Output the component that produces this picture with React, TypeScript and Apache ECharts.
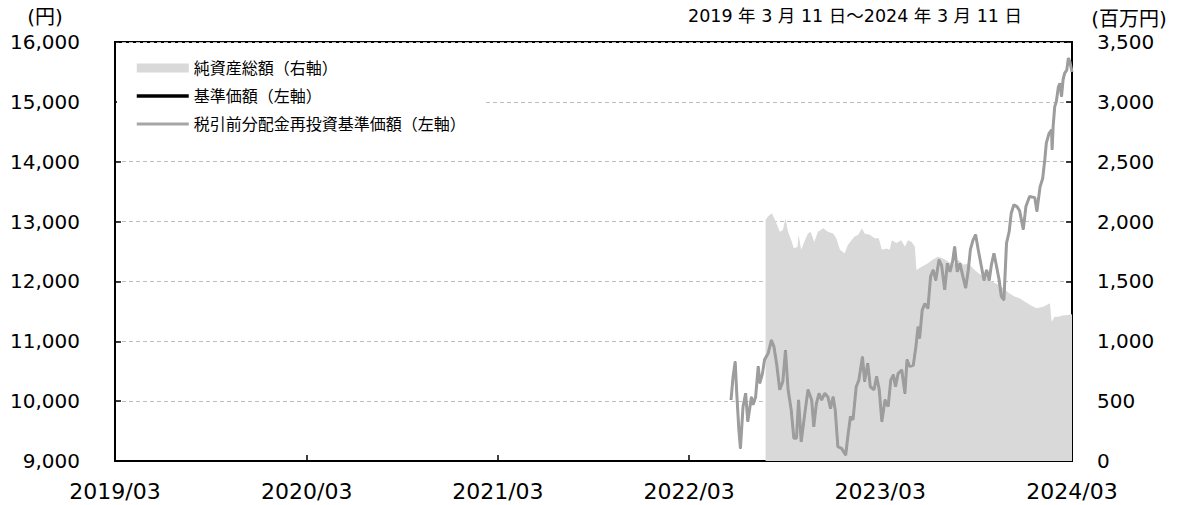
import React, { useEffect, useRef } from "react";
import * as echarts from "echarts";

const FONT = '"DejaVu Sans", "Noto Sans CJK JP", sans-serif';

// x-axis tick dates (anniversaries of the start date)
const xTickDates = ["2019-03-11", "2020-03-11", "2021-03-11", "2022-03-11", "2023-03-11", "2024-03-11"];

// Left axis (円)
const leftTicks = [9000, 10000, 11000, 12000, 13000, 14000, 15000, 16000];
// Right axis (百万円)
const rightTicks = [0, 500, 1000, 1500, 2000, 2500, 3000, 3500];

const navDates = [
  "2022-05-30", "2022-06-03", "2022-06-07", "2022-06-10", "2022-06-14", "2022-06-17", "2022-06-22", "2022-06-27",
  "2022-07-01", "2022-07-08", "2022-07-11", "2022-07-16", "2022-07-21", "2022-07-24", "2022-07-29", "2022-08-02",
  "2022-08-09", "2022-08-15", "2022-08-20", "2022-08-25", "2022-08-31", "2022-09-06", "2022-09-11", "2022-09-16",
  "2022-09-22", "2022-09-27", "2022-10-02", "2022-10-06", "2022-10-11", "2022-10-18", "2022-10-24", "2022-10-31",
  "2022-11-04", "2022-11-09", "2022-11-14", "2022-11-19", "2022-11-25", "2022-12-01", "2022-12-06", "2022-12-11",
  "2022-12-15", "2022-12-20", "2022-12-27", "2023-01-04", "2023-01-08", "2023-01-13", "2023-01-18", "2023-01-24",
  "2023-01-29", "2023-02-05", "2023-02-09", "2023-02-15", "2023-02-20", "2023-02-27", "2023-03-04", "2023-03-09",
  "2023-03-14", "2023-03-20", "2023-03-26", "2023-03-31", "2023-04-05", "2023-04-09", "2023-04-14", "2023-04-21",
  "2023-04-27", "2023-05-01", "2023-05-06", "2023-05-13", "2023-05-18", "2023-05-22", "2023-05-25", "2023-05-30",
  "2023-06-04", "2023-06-10", "2023-06-15", "2023-06-20", "2023-06-25", "2023-07-01", "2023-07-06", "2023-07-12",
  "2023-07-17", "2023-07-22", "2023-07-27", "2023-07-31", "2023-08-05", "2023-08-10", "2023-08-15", "2023-08-21",
  "2023-08-26", "2023-08-30", "2023-09-04", "2023-09-09", "2023-09-14", "2023-09-20", "2023-09-25", "2023-09-30",
  "2023-10-05", "2023-10-09", "2023-10-14", "2023-10-19", "2023-10-24", "2023-10-28", "2023-11-02", "2023-11-07",
  "2023-11-12", "2023-11-16", "2023-11-21", "2023-11-27", "2023-12-02", "2023-12-09", "2023-12-14", "2023-12-21",
  "2023-12-31", "2024-01-04", "2024-01-10", "2024-01-15", "2024-01-19", "2024-01-22", "2024-01-27", "2024-02-01",
  "2024-02-02", "2024-02-04", "2024-02-07", "2024-02-10", "2024-02-14", "2024-02-17", "2024-02-20", "2024-02-23",
  "2024-02-26", "2024-03-01", "2024-03-04", "2024-03-07", "2024-03-11",
];

// 基準価額（円）
const navValues = [
  10020, 10410, 10660, 10130, 9520, 9210, 9910, 10130,
  9660, 10070, 9940, 10070, 10580, 10300, 10460, 10690,
  10800, 11020, 10910, 10630, 10190, 10330, 10850, 10190,
  9850, 9380, 9380, 10020, 9320, 9800, 10190, 10020,
  9570, 9960, 10130, 10020, 10130, 10070, 9880, 10070,
  9850, 9240, 9210, 9100, 9410, 9740, 9690, 10240,
  10350, 10740, 10330, 10630, 10240, 10190, 10410, 10190,
  9660, 10020, 9910, 10350, 10440, 10240, 10460, 10520,
  10130, 10690, 10580, 10600, 10910, 11240, 11050, 11520,
  11630, 11550, 12080, 12190, 12020, 12360, 12270, 11860,
  12300, 12160, 12330, 12580, 12160, 12300, 12110, 11890,
  12190, 12530, 12690, 12780, 12530, 12250, 12020, 12190,
  12020, 12270, 12470, 12250, 12020, 11750, 11690, 12640,
  12830, 13140, 13280, 13250, 13180, 12870, 13250, 13420,
  13400, 13170, 13580, 13720, 14030, 14310, 14470, 14530,
  14200, 14590, 14920, 15000, 15250, 15310, 15090, 15370,
  15480, 15530, 15730, 15670, 15500,
];

// 税引前分配金再投資基準価額（円）: no distributions were paid, so it is identical to 基準価額
const reinvestedValues = navValues;

const assetDates = [
  "2022-08-04", "2022-08-09", "2022-08-16", "2022-08-23", "2022-08-31", "2022-09-06", "2022-09-11", "2022-09-16",
  "2022-09-22", "2022-09-27", "2022-10-04", "2022-10-06", "2022-10-11", "2022-10-18", "2022-10-24", "2022-10-29",
  "2022-11-05", "2022-11-12", "2022-11-22", "2022-12-01", "2022-12-11", "2022-12-17", "2022-12-24", "2023-01-02",
  "2023-01-08", "2023-01-15", "2023-01-21", "2023-01-28", "2023-02-04", "2023-02-09", "2023-02-19", "2023-02-28",
  "2023-03-08", "2023-03-14", "2023-03-23", "2023-03-29", "2023-04-02", "2023-04-11", "2023-04-20", "2023-04-27",
  "2023-05-03", "2023-05-10", "2023-05-16", "2023-05-19", "2023-05-29", "2023-06-10", "2023-06-18", "2023-06-29",
  "2023-07-10", "2023-07-19", "2023-07-28", "2023-08-07", "2023-08-17", "2023-08-26", "2023-09-07", "2023-09-17",
  "2023-09-27", "2023-10-07", "2023-10-16", "2023-10-25", "2023-11-04", "2023-11-13", "2023-11-23", "2023-12-02",
  "2023-12-12", "2023-12-23", "2024-01-03", "2024-01-16", "2024-01-29", "2024-02-01", "2024-02-07", "2024-02-14",
  "2024-02-22", "2024-03-04", "2024-03-11",
];

// 純資産総額（百万円）
const assetValues = [
  2015, 2045, 2070, 2005, 1915, 1930, 2025, 1915,
  1845, 1775, 1790, 1890, 1765, 1845, 1900, 1915,
  1830, 1915, 1945, 1915, 1900, 1860, 1765, 1735,
  1805, 1845, 1875, 1890, 1945, 1900, 1890, 1860,
  1860, 1765, 1775, 1765, 1845, 1820, 1845, 1790,
  1845, 1830, 1790, 1596, 1623, 1651, 1680, 1707,
  1690, 1665, 1640, 1679, 1640, 1651, 1596, 1560,
  1540, 1510, 1484, 1470, 1428, 1400, 1373, 1360,
  1331, 1300, 1275, 1289, 1317, 1164, 1205, 1205,
  1215, 1219, 1225,
];

const ts = (s: string) => {
  const [y, m, d] = s.split("-").map(Number);
  return Date.UTC(y, m - 1, d);
};

const fmt = (v: number) => v.toLocaleString("en-US");

export default function App() {
  const ref = useRef<HTMLDivElement>(null);

  useEffect(() => {
    if (!ref.current) return;
    const chart = echarts.init(ref.current, null, { renderer: "svg" });
    const xTicks = xTickDates.map(ts);
    const hiddenSymbol = { color: "transparent", borderWidth: 0, opacity: 0 };

    chart.setOption({
      animation: false,
      backgroundColor: "#fff",
      textStyle: { fontFamily: FONT },
      grid: {
        left: 115,
        right: 107,
        top: 42,
        bottom: 44,
        show: true,
        borderColor: "#000",
        borderWidth: 2,
        backgroundColor: "transparent",
      },
      legend: {
        orient: "vertical",
        left: 117,
        top: 44,
        backgroundColor: "#fff",
        padding: [15, 18, 14, 18],
        itemGap: 10,
        itemWidth: 52,
        itemHeight: 9,
        textStyle: { fontFamily: FONT, fontSize: 16, color: "#000", lineHeight: 18 },
        data: [
          { name: "純資産総額（右軸）", icon: "rect", itemStyle: { color: "#d9d9d9" } },
          { name: "基準価額（左軸）", lineStyle: { width: 3.5, color: "#000" }, itemStyle: hiddenSymbol },
          {
            name: "税引前分配金再投資基準価額（左軸）",
            lineStyle: { width: 3, color: "#a6a6a6" },
            itemStyle: hiddenSymbol,
          },
        ],
      },
      xAxis: {
        type: "value",
        min: ts(xTickDates[0]),
        max: ts(xTickDates[xTickDates.length - 1]),
        axisLine: { show: true, lineStyle: { color: "#000", width: 2 } },
        axisTick: { show: true, inside: true, length: 6, customValues: xTicks, lineStyle: { color: "#000", width: 1.5 } },
        axisLabel: {
          customValues: xTicks,
          margin: 19,
          fontSize: 22,
          fontFamily: FONT,
          color: "#000",
          formatter: (v: number) => {
            const d = new Date(v);
            return `${d.getUTCFullYear()}/${String(d.getUTCMonth() + 1).padStart(2, "0")}`;
          },
        },
        splitLine: { show: false },
      },
      yAxis: [
        {
          type: "value",
          min: leftTicks[0],
          max: leftTicks[leftTicks.length - 1],
          interval: 1000,
          axisLine: { show: true, lineStyle: { color: "#000", width: 2 } },
          axisTick: { show: true, inside: true, length: 6, lineStyle: { color: "#000", width: 1.5 } },
          axisLabel: { margin: 35, fontSize: 20, fontFamily: FONT, color: "#000", formatter: fmt },
          splitLine: { show: true, lineStyle: { color: "#bdbdbd", type: [4, 3], width: 1 } },
        },
        {
          type: "value",
          min: rightTicks[0],
          max: rightTicks[rightTicks.length - 1],
          interval: 500,
          position: "right",
          axisLine: { show: true, lineStyle: { color: "#000", width: 2 } },
          axisTick: { show: true, inside: true, length: 6, lineStyle: { color: "#000", width: 1.5 } },
          axisLabel: { margin: 25, fontSize: 20, fontFamily: FONT, color: "#000", formatter: fmt },
          splitLine: { show: false },
        },
      ],
      graphic: [
        {
          type: "text",
          x: 45,
          y: 17,
          style: {
            text: "(円)",
            fontSize: 20,
            fontFamily: FONT,
            fill: "#000",
            align: "center",
            verticalAlign: "middle",
          },
        },
        {
          type: "text",
          x: 1129,
          y: 19,
          style: {
            text: "(百万円)",
            fontSize: 20,
            fontFamily: FONT,
            fill: "#000",
            align: "center",
            verticalAlign: "middle",
          },
        },
        {
          type: "text",
          x: 688,
          y: 16,
          style: {
            text: "2019 年 3 月 11 日～2024 年 3 月 11 日",
            fontSize: 17.5,
            fontFamily: FONT,
            fill: "#000",
            align: "left",
            verticalAlign: "middle",
          },
        },
      ],
      series: [
        {
          name: "純資産総額（右軸）",
          type: "line",
          yAxisIndex: 1,
          symbol: "none",
          lineStyle: { width: 0, color: "#d9d9d9" },
          itemStyle: { color: "#d9d9d9" },
          areaStyle: { color: "#d9d9d9", opacity: 1 },
          data: assetDates.map((d, i) => [ts(d), assetValues[i]]),
          z: 1,
        },
        {
          name: "基準価額（左軸）",
          type: "line",
          yAxisIndex: 0,
          symbol: "none",
          lineStyle: { width: 1.5, color: "#000" },
          itemStyle: { color: "#000" },
          data: navDates.map((d, i) => [ts(d), navValues[i]]),
          z: 2,
        },
        {
          name: "税引前分配金再投資基準価額（左軸）",
          type: "line",
          yAxisIndex: 0,
          symbol: "none",
          lineStyle: { width: 3, color: "#9d9d9d" },
          itemStyle: { color: "#9d9d9d" },
          data: navDates.map((d, i) => [ts(d), reinvestedValues[i]]),
          z: 3,
        },
      ],
    });

    return () => chart.dispose();
  }, []);

  return (
    <div
      ref={ref}
      style={{ position: "absolute", left: 0, top: 0, width: 1179, height: 505 }}
    />
  );
}
